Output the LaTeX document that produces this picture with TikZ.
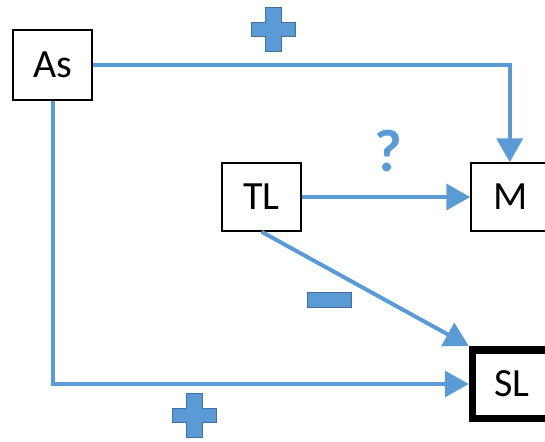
\documentclass[tikz,border=0pt]{standalone}
\usepackage{fontspec}
\setmainfont{Carlito}
\usetikzlibrary{arrows.meta,calc}
\definecolor{lblue}{HTML}{5B9BD5}
\definecolor{dblue}{HTML}{41719C}
\tikzset{
  box/.style={draw=black, line width=1.5pt, fill=white, minimum width=79pt, minimum height=68pt, inner sep=0pt, font=\fontsize{40}{40}\selectfont},
  openbox/.style={box, draw=none, minimum width=119pt},
  conn/.style={draw=lblue, line width=4pt, -{Triangle[length=24pt,width=26pt]}},
  signshape/.style={fill=lblue, draw=dblue, line width=1pt},
}
\newcommand{\plusshape}[2]{%
  \filldraw[signshape] (#1-8,#2-22) -- (#1+8,#2-22) -- (#1+8,#2-7) -- (#1+22,#2-7) -- (#1+22,#2+7) -- (#1+8,#2+7) -- (#1+8,#2+22) -- (#1-8,#2+22) -- (#1-8,#2+7) -- (#1-22,#2+7) -- (#1-22,#2-7) -- (#1-8,#2-7) -- cycle;}
\begin{document}
\begin{tikzpicture}[x=1pt, y=-1pt]
\useasboundingbox (0,0) rectangle (545,441);
\node[box, minimum height=70pt] (As) at (52.5,65) {As};
\node[box] (TL) at (261.5,197) {TL};
\node[openbox, outer sep=0.75pt] (M) at (530.5,197) {M\rule{40pt}{0pt}};
\node[openbox, minimum height=68.5pt, outer sep=3.75pt] (SL) at (532,384) {SL\rule{40pt}{0pt}};
\draw[line width=1.5pt, line join=miter] ([shift={(20,0.75)}]M.north east) -- ([shift={(0.75,0.75)}]M.north west) -- ([shift={(0.75,-0.75)}]M.south west) -- ([shift={(20,-0.75)}]M.south east);
\draw[line width=7.5pt, line join=miter] ([shift={(20,3.75)}]SL.north east) -- ([shift={(3.75,3.75)}]SL.north west) -- ([shift={(3.75,-3.75)}]SL.south west) -- ([shift={(20,-3.75)}]SL.south east);
\coordinate (Mtop) at ($(M.north west)+(39.5,0)$);
\draw[conn] (As.east) -| (Mtop);
\draw[conn] (As.south) |- (SL.west);
\draw[conn] (TL.east) -- (M.west);
\draw[conn] (TL.south) -- (SL.north west);
\plusshape{273}{30}
\plusshape{194}{415}
\filldraw[signshape] (307,292) rectangle (351,307);
\node[text=lblue, font=\bfseries\fontsize{60}{60}\selectfont, inner sep=0pt] (q) at (388,151) {?};
\end{tikzpicture}
\end{document}
